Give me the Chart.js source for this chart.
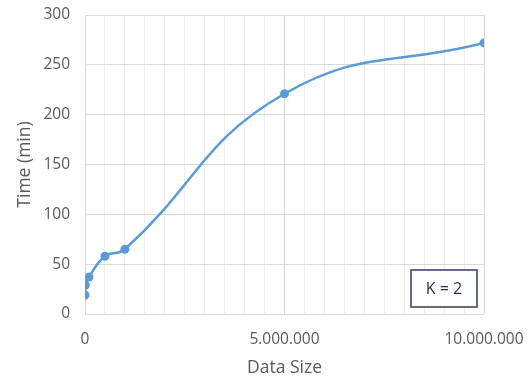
<!DOCTYPE html>
<html>
<head>
<meta charset="utf-8">
<script src="https://cdn.jsdelivr.net/npm/chart.js@4"></script>
<style>
html,body{margin:0;padding:0;background:#fff;}
#wrap{width:531px;height:379px;position:relative;}
</style>
</head>
<body>
<div id="wrap"><canvas id="c" width="531" height="379"></canvas></div>
<script>
// Data
const dataSizes = [1000, 10000, 100000, 500000, 1000000, 5000000, 10000000];
const timesMin  = [19, 29, 37, 58, 65, 221, 272];
const xTickLabels = ['0', '5.000.000', '10.000.000'];
const yTicks = [0, 50, 100, 150, 200, 250, 300];
const annotationText = 'K = 2';

const points = dataSizes.map((x, i) => ({x: x, y: timesMin[i]}));
const TXT = '#595959';
const FONT = "'Open Sans', sans-serif";

const boxPlugin = {
  id: 'kbox',
  afterDraw(chart) {
    const ca = chart.chartArea, ctx = chart.ctx;
    const w = 66, h = 37;
    const x = ca.right - 7 - w, y = ca.bottom - 7 - h;
    ctx.save();
    ctx.fillStyle = '#fff';
    ctx.fillRect(x, y, w, h);
    ctx.strokeStyle = '#2f3b66';
    ctx.lineWidth = 1.5;
    ctx.strokeRect(x, y, w, h);
    ctx.fillStyle = '#1f2d5c';
    ctx.font = "16px " + FONT;
    ctx.textAlign = 'center';
    ctx.textBaseline = 'middle';
    ctx.fillText(annotationText, x + w / 2, y + h / 2 + 1);
    ctx.restore();
  }
};

new Chart(document.getElementById('c'), {
  type: 'line',
  data: {
    datasets: [{
      data: points,
      borderColor: '#5b9bd5',
      backgroundColor: '#5b9bd5',
      borderWidth: 2.5,
      pointRadius: 4.5,
      pointBorderWidth: 0,
      pointBackgroundColor: '#5b9bd5',
      tension: 0.45,
      fill: false
    }]
  },
  options: {
    responsive: false,
    animation: false,
    layout: {padding: {top: 15, right: 47, left: 0, bottom: 0}},
    plugins: {legend: {display: false}, tooltip: {enabled: false}},
    scales: {
      x: {
        type: 'linear',
        min: 0, max: 10000000,
        afterFit(s) { s.height = 65; s.paddingLeft = 0; s.paddingRight = 0; },
        border: {display: false},
        grid: {
          drawTicks: false,
          color: ctx => (ctx.tick && ctx.tick.value % 5000000 === 0) ? '#d9d9d9' : '#eeeeee',
          lineWidth: 1
        },
        ticks: {
          stepSize: 500000,
          autoSkip: false,
          maxRotation: 0,
          padding: 16,
          color: TXT,
          font: {family: FONT, size: 15.5},
          callback: (v) => {
            const i = [0, 5000000, 10000000].indexOf(v);
            return i >= 0 ? xTickLabels[i] : '';
          }
        },
        title: {
          display: true, text: 'Data Size', color: TXT,
          font: {family: FONT, size: 17.5}, padding: {top: 0, bottom: 0}
        }
      },
      y: {
        min: 0, max: 300,
        afterFit(s) { s.width = 85; s.paddingTop = 0; s.paddingBottom = 0; },
        border: {display: false},
        grid: {drawTicks: false, color: '#d9d9d9', lineWidth: 1},
        afterBuildTicks(s) { s.ticks = yTicks.map(v => ({value: v})); },
        ticks: {
          padding: 15,
          color: TXT,
          font: {family: FONT, size: 15.5}
        },
        title: {
          display: true, text: 'Time (min)', color: TXT,
          font: {family: FONT, size: 17.5}, padding: {top: 15, bottom: 0}
        }
      }
    }
  },
  plugins: [boxPlugin]
});
</script>
</body>
</html>
